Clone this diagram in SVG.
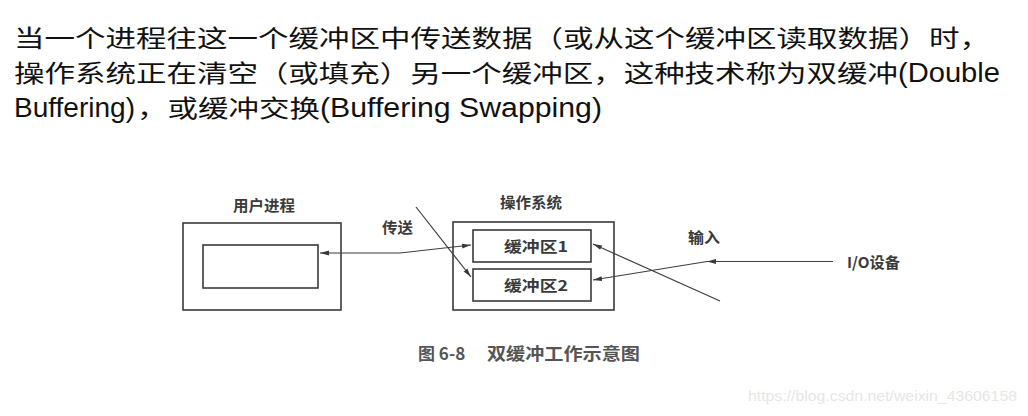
<svg xmlns="http://www.w3.org/2000/svg" width="1028" height="416" viewBox="0 0 1028 416">
<defs>
<style>
.t{font-family:"Noto Sans CJK SC","Liberation Sans",sans-serif;font-size:24px;fill:#111}
.l{font-family:"Liberation Sans",Arial,sans-serif;font-size:27px;fill:#111}
.lab{font-family:"Noto Sans CJK SC","Liberation Serif",serif;font-size:15px;font-weight:700;fill:#3a3a3a}
.box{fill:none;stroke:#3a3a3a;stroke-width:1.6}
.ln{fill:none;stroke:#3f3f3f;stroke-width:1.2}
.cap{font-family:"Noto Sans CJK SC","Liberation Serif",serif;font-size:17px;font-weight:700;fill:#555}
.wm{font-family:"Liberation Sans",Arial,sans-serif;font-size:15px;fill:#e6e6e6}
</style>
<marker id="ah" markerWidth="10" markerHeight="6" refX="9" refY="3" orient="auto-start-reverse" markerUnits="userSpaceOnUse">
<path d="M0,0.6 L9,3 L0,5.4 Z" fill="#3a3a3a"/>
</marker>
</defs>
<rect width="1028" height="416" fill="#ffffff"/>

<g id="intro">
<text class="t" x="14" y="47" textLength="976" lengthAdjust="spacingAndGlyphs">当一个进程往这一个缓冲区中传送数据（或从这个缓冲区读取数据）时，</text>
<text class="t" x="14" y="82" textLength="884" lengthAdjust="spacingAndGlyphs">操作系统正在清空（或填充）另一个缓冲区，这种技术称为双缓冲</text>
<text class="l" x="898" y="82" textLength="102" lengthAdjust="spacingAndGlyphs">(Double</text>
<text class="l" x="14" y="117" textLength="121" lengthAdjust="spacingAndGlyphs">Buffering)</text>
<text class="t" x="137" y="117" textLength="183" lengthAdjust="spacingAndGlyphs">，或缓冲交换</text>
<text class="l" x="320" y="117" textLength="282" lengthAdjust="spacingAndGlyphs">(Buffering Swapping)</text>
</g>

<g id="user-process">
<rect class="box" x="183" y="223" width="158" height="87"/>
<rect class="box" x="203" y="245" width="115" height="43"/>
<text class="lab" x="233" y="211" textLength="62" lengthAdjust="spacingAndGlyphs">用户进程</text>
</g>

<g id="os">
<rect class="box" x="453" y="222" width="161" height="88"/>
<text class="lab" x="500" y="208" textLength="62" lengthAdjust="spacingAndGlyphs">操作系统</text>
</g>

<g id="buffer1">
<rect class="box" x="473" y="230" width="118" height="32"/>
<text class="lab" x="504" y="252" textLength="64" lengthAdjust="spacingAndGlyphs">缓冲区1</text>
</g>

<g id="buffer2">
<rect class="box" x="473" y="269" width="118" height="32"/>
<text class="lab" x="504" y="291" textLength="64" lengthAdjust="spacingAndGlyphs">缓冲区2</text>
</g>

<g id="io-device">
<text class="lab" x="847" y="268" textLength="53" lengthAdjust="spacingAndGlyphs">I/O设备</text>
</g>

<g id="labels">
<text class="lab" x="382" y="233" textLength="31" lengthAdjust="spacingAndGlyphs">传送</text>
<text class="lab" x="688" y="243" textLength="32" lengthAdjust="spacingAndGlyphs">输入</text>
</g>

<g id="connectors">
<path class="ln" d="M320,253 L400,253 L471,245" marker-start="url(#ah)" marker-end="url(#ah)"/>
<path class="ln" d="M416,207 L471,277" marker-end="url(#ah)"/>
<path class="ln" d="M720,301 L593,244" marker-end="url(#ah)"/>
<path class="ln" d="M833,261.5 L707,261.5" marker-end="url(#ah)"/>
<path class="ln" d="M707,261.5 L593,280" marker-end="url(#ah)"/>
</g>

<g id="caption">
<text class="cap" x="418" y="360">图 6-8</text>
<text class="cap" x="487" y="360" textLength="153" lengthAdjust="spacingAndGlyphs">双缓冲工作示意图</text>
</g>

<text class="wm" x="748" y="401" textLength="269" lengthAdjust="spacingAndGlyphs">https://blog.csdn.net/weixin_43606158</text>
</svg>
